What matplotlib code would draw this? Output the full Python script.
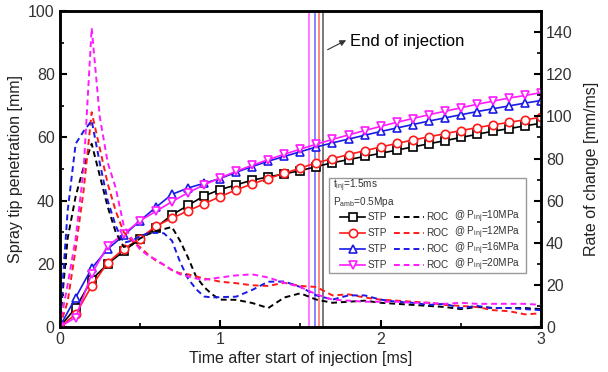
import numpy as np
import matplotlib
matplotlib.use("Agg")
import matplotlib.pyplot as plt
from matplotlib.ticker import MultipleLocator

plt.rcParams['font.family'] = ['Liberation Sans', 'DejaVu Sans']
plt.rcParams['mathtext.default'] = 'regular'

# spray tip penetration [mm], every 0.1 ms
t_stp = np.round(np.arange(0, 3.01, 0.1), 2)
stp_10 = [0, 6, 15, 20, 24, 28, 31.5, 35.5, 38.5, 41.5, 43.5, 45, 46.5, 47.5, 48.5, 49.5,
          50.8, 52, 53, 54, 55, 56, 57, 58, 59, 60, 61, 62, 62.8, 63.7, 64.5]
stp_12 = [0, 4, 13, 20.4, 24.7, 28, 32, 34.4, 36.8, 39, 41.3, 43.4, 45.3, 47, 48.7, 50.3,
          52, 53.3, 54.6, 55.8, 57, 58.1, 59.2, 60.2, 61.2, 62.2, 63.1, 64, 64.8, 65.6, 66.4]
stp_16 = [0, 9.3, 18.6, 24.7, 29, 33.6, 37.9, 42, 44, 45.5, 47, 49, 50.8, 52.5, 54, 55.5,
          57, 58.3, 59.5, 60.7, 61.9, 63, 64.1, 65.2, 66.2, 67.2, 68.2, 69.1, 70, 70.9, 71.7]
stp_20 = [0, 3, 16.8, 25.7, 29.5, 33.6, 36.6, 39.7, 42.5, 45, 47.2, 49.3, 51.2, 53, 54.7, 56.3,
          57.9, 59.4, 60.8, 62.2, 63.5, 64.8, 66, 67.2, 68.3, 69.4, 70.5, 71.5, 72.5, 73.3, 74.2]

# rate of change [mm/ms]
t_roc = [0, .05, .1, .15, .2, .25, .3, .35, .4, .45, .5, .55, .6, .65, .7, .75, .8, .85, .9, .95,
         1.0, 1.1, 1.2, 1.3, 1.4, 1.5, 1.6, 1.7, 1.8, 1.9, 2.0, 2.1, 2.2, 2.3, 2.4, 2.5, 2.6,
         2.7, 2.8, 2.9, 3.0]
roc_10 = [0, 42, 62, 76, 87, 72, 57, 45, 38, 39, 42, 44, 45.5, 46.5, 47.5, 41, 33, 24, 19, 15.5,
          13, 12.9, 11.4, 9, 14, 16, 13, 11.5, 12, 12.5, 11.5, 11, 10.5, 10, 9.5, 8.5, 9.5,
          9, 9, 9, 8.5]
roc_12 = [0, 12, 37, 65, 102, 85, 68, 55, 45, 41, 38, 34.5, 31.5, 29.5, 27, 25.5, 25, 24, 23, 22.4,
          21.5, 20.8, 19.8, 19.5, 21, 19.5, 19, 15, 15.5, 14, 13, 12.5, 12, 11.5, 10.5, 10, 9.5,
          8, 7.5, 6, 6.5]
roc_16 = [0, 55, 87, 93, 98, 78, 60, 48, 40, 41, 43, 44.5, 44.7, 44.5, 41, 31, 23, 18, 14.5, 14,
          14.2, 14.4, 17.6, 21.5, 21.6, 19, 15, 13, 15, 15, 13, 12, 11.5, 10.5, 11, 9, 10,
          9, 9, 8.5, 8]
roc_20 = [0, 20, 42, 75, 142, 100, 78, 66, 48, 42, 37, 34, 32, 29.5, 27, 25, 24, 23, 22.4, 23,
          23.5, 24.5, 25, 23.5, 21, 19, 15.5, 13, 12.5, 12, 12, 12, 11.5, 11.5, 11, 11.5, 11,
          11, 11, 11, 10.5]

# end of injection [ms]
t_end = [1.644, 1.617, 1.592, 1.556]

pressures = ['10', '12', '16', '20']
colors = ['black', '#ff1a1a', '#1a1ae6', '#ff1aff']
markers = ['s', 'o', '^', 'v']
stp_all = [stp_10, stp_12, stp_16, stp_20]
roc_all = [roc_10, roc_12, roc_16, roc_20]

fig = plt.figure(figsize=(6.08, 3.72), dpi=100)
ax = fig.add_axes([0.098, 0.121, 0.792, 0.849])
ax2 = ax.twinx()

for stp, c, m in zip(stp_all, colors, markers):
    ax.plot(t_stp, stp, color=c, lw=1.2, marker=m, ms=6, mfc='white', mew=1.2, zorder=3)
for roc, c in zip(roc_all, colors):
    ax2.plot(t_roc, roc, color=c, lw=1.4, ls=(0, (3, 2)), zorder=2)
for te, c in zip(t_end, ['#555555', '#ff6666', '#6666ff', '#ff55ff']):
    ax.axvline(te, color=c, lw=1.1, zorder=1)

ax.text(1.81, 90.5, 'End of injection', fontsize=12, va='center', ha='left')
# arrow head points toward the text in the original
ax.annotate('', xy=(1.785, 90.8), xytext=(1.67, 87.8),
            arrowprops=dict(arrowstyle='-|>', color='#333333', lw=0.8,
                            mutation_scale=9, shrinkA=0, shrinkB=0))

ax.set_xlim(0, 3)
ax.set_ylim(0, 100)
ax2.set_ylim(0, 150)
ax.xaxis.set_major_locator(MultipleLocator(1))
ax.xaxis.set_minor_locator(MultipleLocator(0.5))
ax.yaxis.set_major_locator(MultipleLocator(20))
ax.yaxis.set_minor_locator(MultipleLocator(10))
ax2.yaxis.set_major_locator(MultipleLocator(20))
ax2.yaxis.set_minor_locator(MultipleLocator(10))
for a in (ax, ax2):
    a.tick_params(which='major', direction='in', length=5, width=1.5, labelsize=11.5,
                  labelcolor='#333333')
    a.tick_params(which='minor', direction='in', length=3, width=1.2)
    for s in a.spines.values():
        s.set_linewidth(1.8)

ax.set_xlabel('Time after start of injection [ms]', fontsize=11.5, color='#222222', labelpad=3)
ax.set_ylabel('Spray tip penetration [mm]', fontsize=11.5, color='#222222', labelpad=4)
ax2.set_ylabel('Rate of change [mm/ms]', fontsize=11.5, color='#222222', labelpad=8)

# legend drawn by hand in axes coordinates (on the top axes)
tr = ax2.transAxes
def fx(px):
    return (px - 59.5) / 481.5
def fy(py):
    return (327 - py) / 316.0

box = plt.Rectangle((fx(329), fy(273)), fx(526) - fx(329), fy(178) - fy(273), transform=tr,
                    fill=True, fc='white', ec='#999999', lw=1.0, zorder=5)
ax2.add_patch(box)
lfs = 7.2
ax2.text(fx(333), fy(186), 't$_{inj}$=1.5ms', transform=tr, fontsize=lfs, va='center',
         color='#333333', zorder=6)
ax2.text(fx(333), fy(202), 'P$_{amb}$=0.5Mpa', transform=tr, fontsize=lfs, va='center',
         color='#333333', zorder=6)
rows = [217, 233, 249, 265]
for py, p, c, m in zip(rows, pressures, colors, markers):
    ax2.plot([fx(340), fx(365)], [fy(py), fy(py)], color=c, lw=1.2, transform=tr, zorder=6)
    ax2.plot([fx(352.5)], [fy(py)], color=c, marker=m, ms=6, mfc='white', mew=1.2,
             transform=tr, zorder=7)
    ax2.text(fx(367), fy(py), 'STP', transform=tr, fontsize=lfs, va='center',
             color='#333333', zorder=6)
    ax2.plot([fx(394), fx(424)], [fy(py), fy(py)], color=c, lw=1.4, ls=(0, (3, 2)),
             transform=tr, zorder=6)
    ax2.text(fx(426), fy(py), 'ROC', transform=tr, fontsize=lfs, va='center',
             color='#333333', zorder=6)
    ax2.text(fx(454), fy(py), '@ P$_{inj}$=' + p + 'MPa', transform=tr, fontsize=lfs,
             va='center', color='#333333', zorder=6)

fig.savefig('out.png', dpi=100)
